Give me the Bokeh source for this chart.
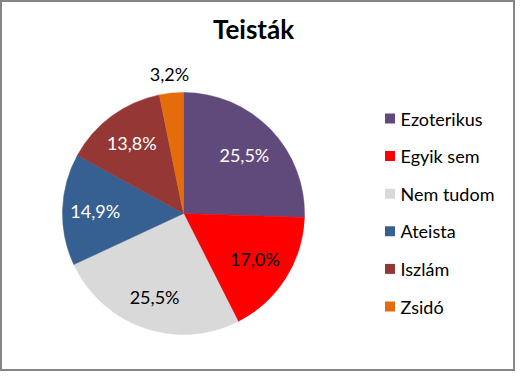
import numpy as np
from bokeh.plotting import figure
from bokeh.models import Range1d
from bokeh.core.properties import value
from bokeh.embed import file_html
from bokeh.resources import INLINE

# ---- data ----
title = "Teisták"
categories = ["Ezoterikus", "Egyik sem", "Nem tudom", "Ateista", "Iszlám", "Zsidó"]
shares = [25.5, 17.0, 25.5, 14.9, 13.8, 3.2]
labels = ["25,5%", "17,0%", "25,5%", "14,9%", "13,8%", "3,2%"]

# ---- style ----
colors = ["#604A7B", "#FF0000", "#D9D9D9", "#376092", "#953735", "#E46C0A"]
label_colors = ["white", "black", "black", "white", "white", "black"]
label_rfrac = [0.70, 0.70, 0.73, 0.73, 0.72, 1.16]
FONT = "Lato"

W, H = 515, 371
p = figure(width=W, height=H, output_backend="svg", toolbar_location=None,
           x_range=Range1d(8, 8 + W), y_range=Range1d(8, 8 + H),
           min_border=0)
p.axis.visible = False
p.grid.visible = False
p.outline_line_color = "#868686"
p.outline_line_width = 3
p.background_fill_color = "white"

cx, cy, R = 191, 387 - 221, 121

vals = np.array(shares, dtype=float)
frac = vals / vals.sum()
cum = np.concatenate([[0], np.cumsum(frac)])
start = np.pi / 2 - cum[:-1] * 2 * np.pi
end = np.pi / 2 - cum[1:] * 2 * np.pi

p.wedge(x=cx, y=cy, radius=R, start_angle=end, end_angle=start,
        fill_color=colors, line_color=colors, line_width=0.5)

mid = (start + end) / 2
lx = cx + np.array(label_rfrac) * R * np.cos(mid)
ly = cy + np.array(label_rfrac) * R * np.sin(mid)
p.text(x=lx, y=ly, text=labels, text_color=label_colors,
       text_font=value(FONT), text_font_size="18px",
       text_align="center", text_baseline="middle")

# title
p.text(x=[261], y=[387 - 36], text=[title], text_font=value(FONT),
       text_font_size="26px", text_font_style="bold", text_color="black",
       text_align="center", text_baseline="middle")

# legend
ys = 387 - (126 + np.arange(len(categories)) * 37.6)
p.rect(x=[397.5] * len(categories), y=ys, width=10, height=10,
       fill_color=colors, line_color=None)
p.text(x=[408] * len(categories), y=ys, text=categories, text_color="black",
       text_font=value(FONT), text_font_size="18px",
       text_align="left", text_baseline="middle")

open("out.html", "w").write(file_html(p, INLINE))
